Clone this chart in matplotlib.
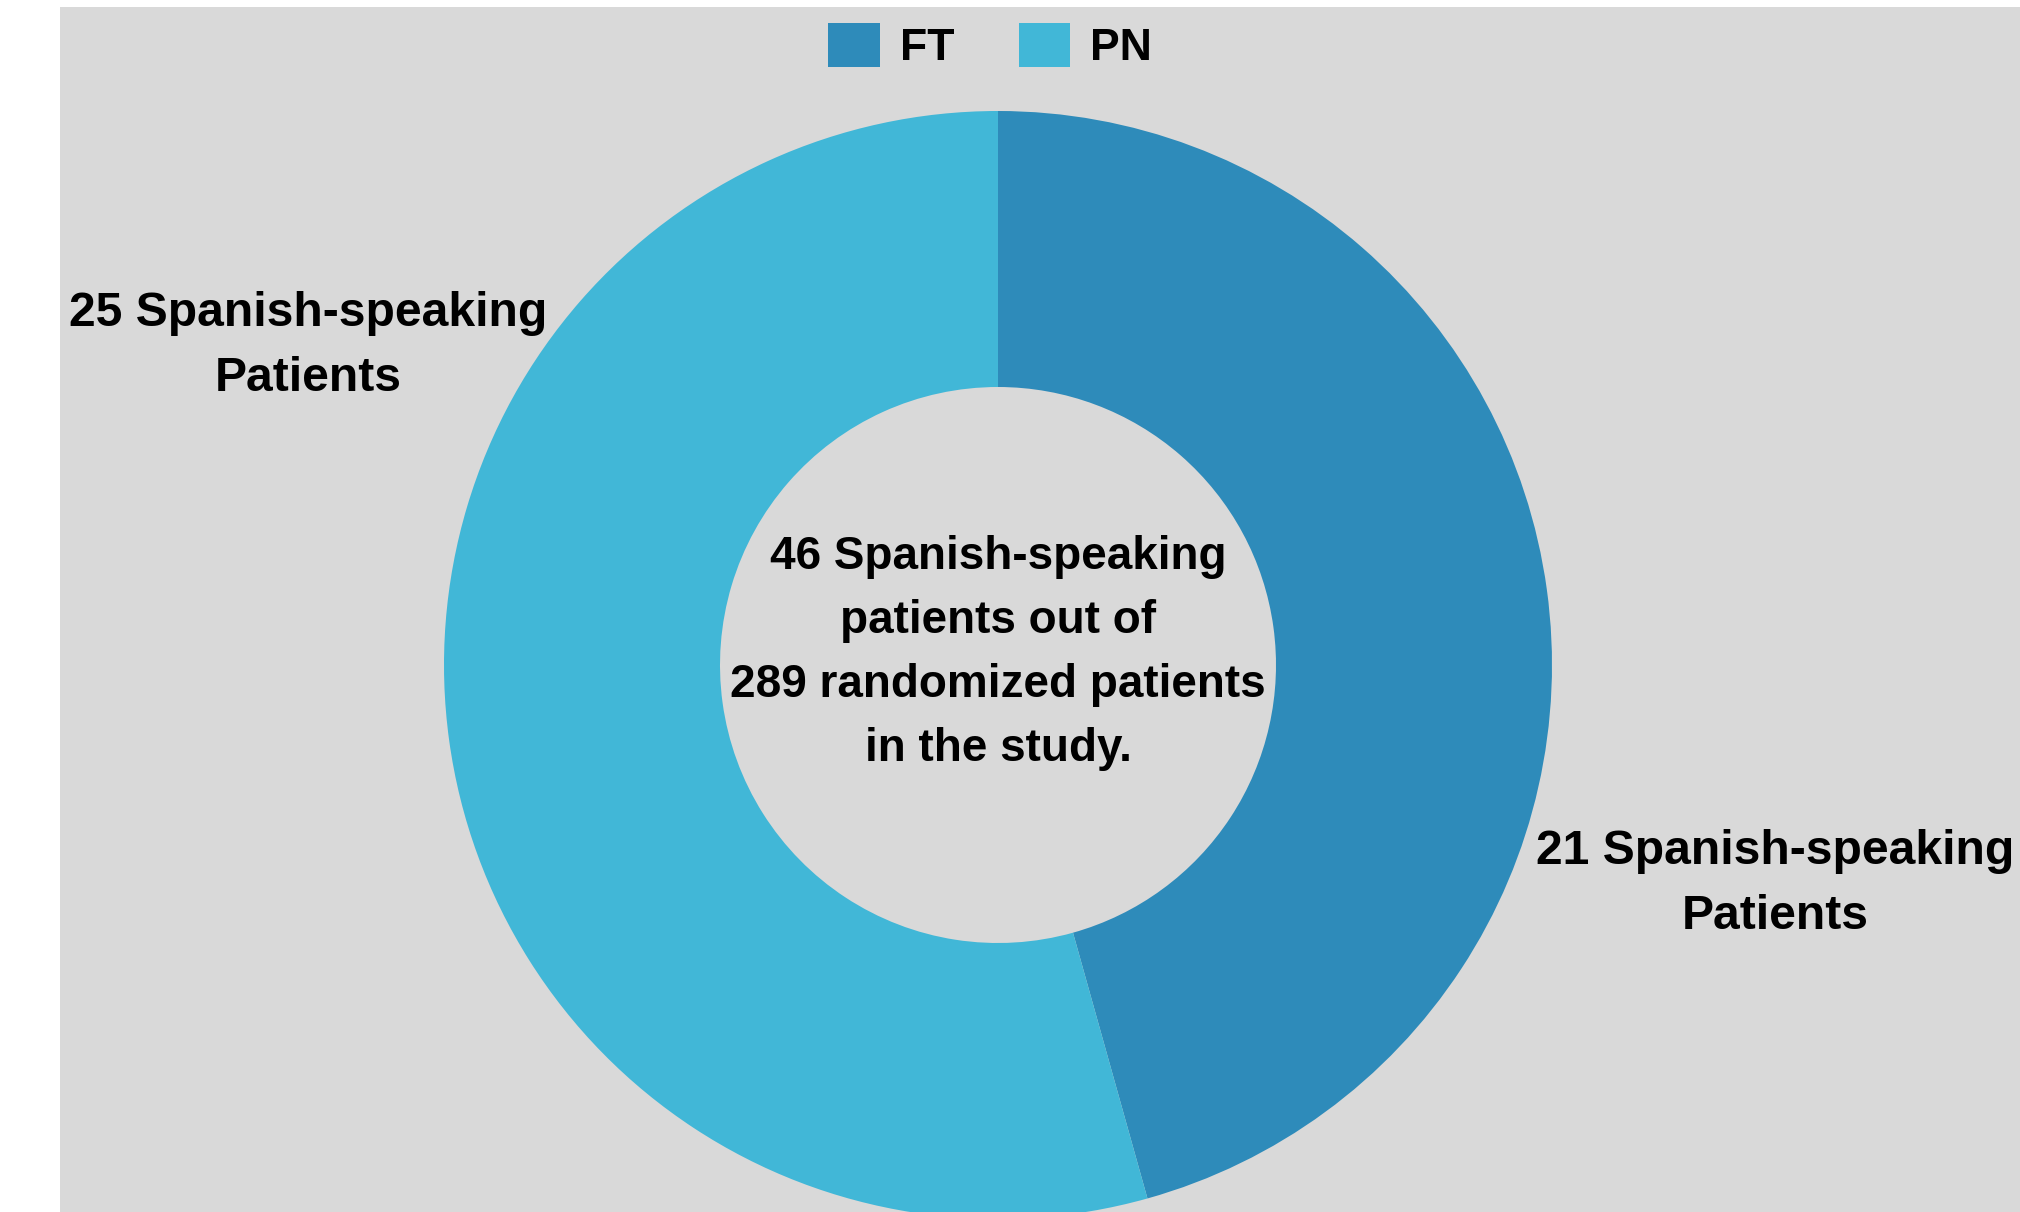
import matplotlib
matplotlib.use('Agg')
from matplotlib import pyplot as plt
from matplotlib.patches import Rectangle

# data
groups = ['FT', 'PN']
counts = [21, 25]
colors = ['#2E8BBA', '#41B7D7']
total_spanish = 46
total_randomized = 289

FONT = ['Liberation Sans', 'DejaVu Sans']

fig = plt.figure(figsize=(20.2, 12.12), dpi=100)
fig.patch.set_facecolor('white')
ax = fig.add_axes([0, 0, 1, 1])

# grey panel
ax.add_patch(Rectangle((60, 0), 1960, 1205, facecolor='#D9D9D9', edgecolor='none', zorder=0))

wedges, _ = ax.pie(counts, colors=colors, startangle=90, counterclock=False,
                   center=(998, 547), radius=554,
                   wedgeprops=dict(width=276, edgecolor='none'))
for w in wedges:
    w.set_zorder(2)

ax.set_xlim(0, 2020)
ax.set_ylim(0, 1212)
ax.set_aspect('equal')
ax.axis('off')

txt = dict(family=FONT, fontweight='bold', color='black',
           ha='center', va='center', zorder=3)

ax.text(998, 559, f'{total_spanish} Spanish-speaking\npatients out of\n'
        f'{total_randomized} randomized patients\nin the study.',
        fontsize=33, linespacing=1.58, **txt)
ax.text(308, 866, f'{counts[1]} Spanish-speaking\nPatients',
        fontsize=34.6, linespacing=1.57, **txt)
ax.text(1775, 328, f'{counts[0]} Spanish-speaking\nPatients',
        fontsize=34.6, linespacing=1.57, **txt)

leg = ax.legend(wedges, groups, loc='center', bbox_to_anchor=(990, 1166),
                bbox_transform=ax.transData, ncol=2, frameon=False,
                prop=dict(family=FONT, weight='bold', size=32),
                handlelength=1.15, handleheight=1.15, handletextpad=0.45,
                columnspacing=1.45)

fig.savefig('out.png', dpi=100)
